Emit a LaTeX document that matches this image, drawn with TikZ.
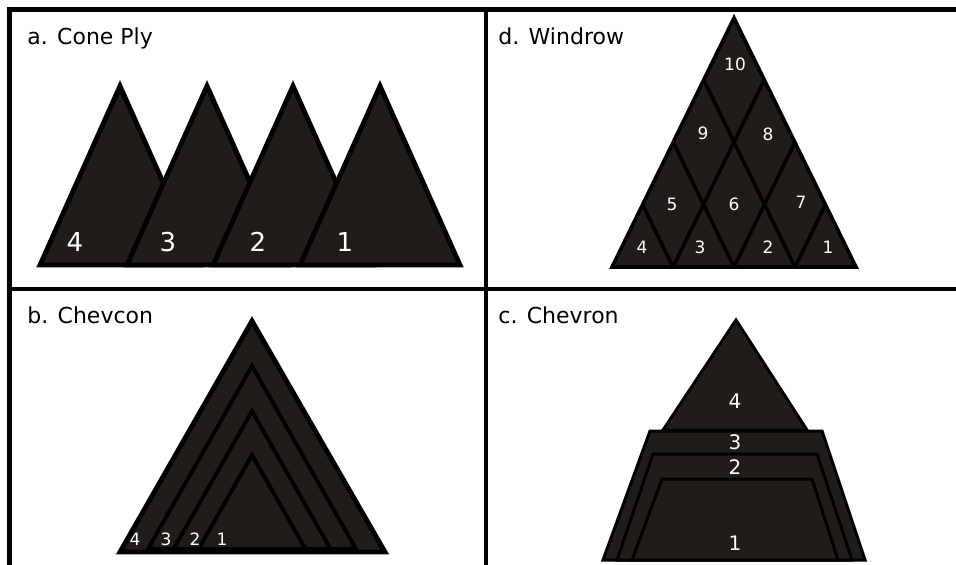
\documentclass[tikz,border=0pt]{standalone}
\usepackage{fontspec}
\setmainfont{DejaVu Sans}
\usepackage{tikz}
\definecolor{PlyDark}{RGB}{31,28,26}

\begin{document}
\begin{tikzpicture}[x=0.5pt, y=-0.5pt,
    ply/.style={draw=black, fill=PlyDark, line width=2.4pt, line join=miter},
    rowline/.style={draw=black, line width=1.8pt},
    panelline/.style={line width=2.3pt},
    plynum/.style={text=white, inner sep=0pt},
    paneltitle/.style={anchor=base west, inner sep=0pt, font=\fontsize{11}{13}\selectfont}]
    \useasboundingbox (0,0) rectangle (956,564);
    \clip (0,0) rectangle (956,564);

    % Rahmen
    \draw[panelline] (956,9.5) -- (9.5,9.5) -- (9.5,570);
    \draw[panelline] (9.5,289) -- (956,289);
    \draw[panelline] (486,9.5) -- (486,570);

    % a. Cone Ply
    \node[paneltitle] (titleA) at (27,44) {a. Cone Ply};
    \draw[ply] (40,265) -- (120,86) -- (200,265) -- cycle;
    \draw[ply] (127,265) -- (207,86) -- (287,265) -- cycle;
    \draw[ply] (213,265) -- (293,86) -- (373,265) -- cycle;
    \draw[ply] (300,265) -- (380,86) -- (460,265) -- cycle;
    \begin{scope}[plynum, font=\fontsize{13}{15}\selectfont]
        \node (cone4) at (75,242) {4};
        \node (cone3) at (168,242) {3};
        \node (cone2) at (258,242) {2};
        \node (cone1) at (345,242) {1};
    \end{scope}

    % d. Windrow
    \node[paneltitle] (titleD) at (498,44) {d. Windrow};
    \draw[ply, line width=1.8pt] (612,267) -- (734,18) -- (856,267) -- cycle;
    \draw[rowline] (673,267) -- (764.5,79.5);
    \draw[rowline] (734,267) -- (795,142);
    \draw[rowline] (795,267) -- (825.5,204.5);
    \draw[rowline] (673,267) -- (642.5,204.5);
    \draw[rowline] (734,267) -- (673,142);
    \draw[rowline] (795,267) -- (703.5,79.5);
    \begin{scope}[plynum, font=\fontsize{8.5}{10}\selectfont]
        \node (win10) at (735,64) {10};
        \node (win9) at (703,133) {9};
        \node (win8) at (768,134) {8};
        \node (win5) at (672,204) {5};
        \node (win6) at (734,204) {6};
        \node (win7) at (801,202) {7};
        \node (win4) at (642,247) {4};
        \node (win3) at (700,247) {3};
        \node (win2) at (768,247) {2};
        \node (win1) at (828,247) {1};
    \end{scope}

    % b. Chevcon
    \node[paneltitle] (titleB) at (27,323) {b. Chevcon};
    \draw[ply] (120,552) -- (252,321) -- (385,552) -- cycle;
    \draw[ply, line width=2pt] (148,549) -- (252,366) -- (356,549) -- cycle;
    \draw[ply, line width=2pt] (173.5,549) -- (252,411) -- (330.5,549) -- cycle;
    \draw[ply, line width=2pt] (198.5,549) -- (252,455) -- (305.5,549) -- cycle;
    \begin{scope}[plynum, font=\fontsize{8.5}{10}\selectfont]
        \node (chc4) at (135,539) {4};
        \node (chc3) at (166,539) {3};
        \node (chc2) at (195,539) {2};
        \node (chc1) at (222,539) {1};
    \end{scope}

    % c. Chevron
    \node[paneltitle] (titleC) at (498,323) {c. Chevron};
    \draw[ply, line width=1.5pt] (663,430) -- (736,320) -- (807,430) -- cycle;
    \draw[ply, line width=1.5pt] (650,431) -- (822,431) -- (865,560) -- (603,560) -- cycle;
    \draw[ply, line width=1.5pt] (653,454) -- (817,454) -- (852,560) -- (617,560) -- cycle;
    \draw[ply, line width=1.5pt] (662,479) -- (812,479) -- (838,560) -- (632,560) -- cycle;
    \begin{scope}[plynum, font=\fontsize{10}{12}\selectfont]
        \node (chv4) at (735,401) {4};
        \node (chv3) at (735,442) {3};
        \node (chv2) at (735,467) {2};
        \node (chv1) at (735,543) {1};
    \end{scope}
\end{tikzpicture}
\end{document}
